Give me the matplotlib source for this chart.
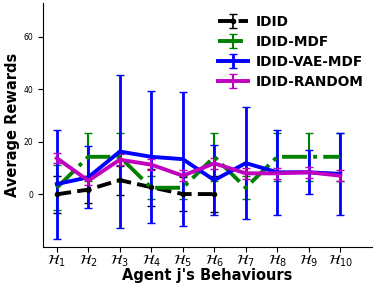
import matplotlib
matplotlib.use('Agg')
import matplotlib.pyplot as plt
import numpy as np

# rewards per behaviour
behaviours = [r'$\mathcal{H}_{%d}$' % i for i in range(1, 11)]
x = np.arange(1, 11)

idid_mean = [0.0, 1.8, 5.4, 2.7, 0.1, 0.1]
idid_err = [7.0, 5.0, 5.5, 7.0, 6.6, 7.0]

mdf_mean = [2.5, 14.3, 14.3, 2.5, 2.5, 14.3, 2.5, 14.3, 14.3, 14.3]
mdf_err = [8.5, 9.2, 9.2, 4.3, 4.3, 9.2, 4.3, 9.2, 9.2, 9.2]

vae_mean = [3.9, 6.5, 16.3, 14.3, 13.4, 5.4, 11.9, 8.4, 8.4, 7.8]
vae_err = [20.8, 11.8, 29.3, 25.2, 25.6, 13.3, 21.4, 16.3, 8.4, 15.6]

rnd_mean = [13.8, 5.2, 13.2, 11.3, 7.1, 11.8, 8.0, 8.0, 8.4, 7.1]
rnd_err = [2.0, 1.5, 2.0, 2.0, 2.0, 2.0, 2.0, 2.0, 2.0, 2.0]

fig = plt.figure(figsize=(3.74, 2.83), dpi=100)
ax = fig.add_axes([0.114, 0.128, 0.88, 0.862])

ax.errorbar(x[:len(idid_mean)], idid_mean, yerr=idid_err, color='k', ls='--',
            lw=2.8, marker='o', ms=3, elinewidth=1.2, capsize=3, label='IDID')
ax.errorbar(x, mdf_mean, yerr=mdf_err, color='g', ls='-.', lw=2.8,
            elinewidth=1.5, capsize=3, label='IDID-MDF')
ax.errorbar(x, vae_mean, yerr=vae_err, color='b', ls='-', lw=2.8,
            elinewidth=2, capsize=3, label='IDID-VAE-MDF')
ax.errorbar(x, rnd_mean, yerr=rnd_err, color='m', ls='-', lw=2.8,
            elinewidth=1.5, capsize=3, label='IDID-RANDOM')

ax.set_xlim(0.55, 11.0)
ax.set_ylim(-20, 73)
ax.set_yticks([0, 20, 40, 60])
ax.tick_params(axis='y', labelsize=5.5)
ax.tick_params(axis='x', pad=1.5)
ax.set_xticks(x)
ax.set_xticklabels(behaviours, fontsize=10)
ax.set_xlabel("Agent j's Behaviours", fontsize=10.5, fontweight='bold', labelpad=-1)
ax.set_ylabel('Average Rewards', fontsize=10.5, fontweight='bold', labelpad=2)
ax.spines['top'].set_visible(False)
ax.spines['right'].set_visible(False)

leg = ax.legend(loc='upper right', bbox_to_anchor=(1.0, 0.985), frameon=False,
                prop={'weight': 'bold', 'size': 9.8}, handlelength=2.2,
                labelspacing=0.45, handletextpad=0.6, borderaxespad=0.2)

fig.savefig('out.png', dpi=100)
